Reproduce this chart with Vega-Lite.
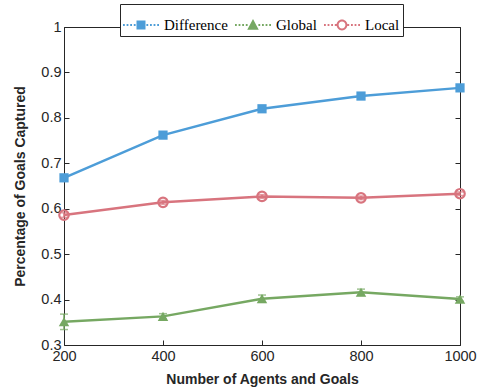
{
  "$schema": "https://vega.github.io/schema/vega-lite/v6.json",
  "width": 396,
  "height": 318,
  "autosize": "none",
  "padding": {"left": 64, "top": 27, "right": 17, "bottom": 45},
  "background": "white",
  "config": {
    "view": {"stroke": "#262626", "strokeWidth": 1},
    "axis": {
      "grid": false,
      "domain": false,
      "tickColor": "#262626",
      "tickSize": 5,
      "offset": -5,
      "labelFlush": false,
      "labelFont": "Liberation Sans",
      "labelFontSize": 14.5,
      "labelColor": "#262626",
      "titleFont": "Liberation Sans",
      "titleFontSize": 14,
      "titleFontWeight": "bold",
      "titleColor": "#262626"
    }
  },
  "data": {
    "values": [
      {"n": 200, "series": "Difference", "v": 0.668, "err": 0.004},
      {"n": 400, "series": "Difference", "v": 0.762, "err": 0.004},
      {"n": 600, "series": "Difference", "v": 0.820, "err": 0.004},
      {"n": 800, "series": "Difference", "v": 0.848, "err": 0.004},
      {"n": 1000, "series": "Difference", "v": 0.866, "err": 0.004},
      {"n": 200, "series": "Global", "v": 0.351, "err": 0.017},
      {"n": 400, "series": "Global", "v": 0.363, "err": 0.006},
      {"n": 600, "series": "Global", "v": 0.402, "err": 0.008},
      {"n": 800, "series": "Global", "v": 0.416, "err": 0.007},
      {"n": 1000, "series": "Global", "v": 0.401, "err": 0.005},
      {"n": 200, "series": "Local", "v": 0.586, "err": 0.005},
      {"n": 400, "series": "Local", "v": 0.614, "err": 0.004},
      {"n": 600, "series": "Local", "v": 0.627, "err": 0.004},
      {"n": 800, "series": "Local", "v": 0.624, "err": 0.004},
      {"n": 1000, "series": "Local", "v": 0.633, "err": 0.004}
    ]
  },
  "resolve": {"axis": {"x": "independent", "y": "independent"}},
  "layer": [
    {
      "mark": {"type": "errorbar", "ticks": {"size": 8}, "thickness": 1.5},
      "encoding": {
        "x": {"field": "n", "type": "quantitative", "scale": {"domain": [200, 1000]}, "axis": null},
        "y": {"field": "v", "type": "quantitative", "scale": {"domain": [0.3, 1]}, "axis": null},
        "yError": {"field": "err"},
        "color": {"field": "series", "type": "nominal"}
      }
    },
    {
      "mark": {"type": "line", "strokeWidth": 2.5},
      "encoding": {
        "x": {"field": "n", "type": "quantitative", "scale": {"domain": [200, 1000]},
              "axis": {"values": [200, 400, 600, 800, 1000], "format": "d", "title": "Number of Agents and Goals", "labelPadding": 4, "titlePadding": 10}},
        "y": {"field": "v", "type": "quantitative", "scale": {"domain": [0.3, 1]},
              "axis": {"values": [0.3, 0.4, 0.5, 0.6, 0.7, 0.8, 0.9, 1], "format": ".1~f", "title": "Percentage of Goals Captured", "labelPadding": 3, "titlePadding": 13}},
        "color": {
          "field": "series", "type": "nominal",
          "scale": {"domain": ["Difference", "Global", "Local"], "range": ["#4d9dd8", "#76a862", "#d8747e"]},
          "legend": {
            "orient": "none", "legendX": 56, "legendY": -23, "direction": "horizontal", "title": null,
            "strokeColor": "#262626", "fillColor": "white", "padding": 3,
            "labelFont": "Liberation Serif", "labelFontSize": 15, "labelColor": "black",
            "symbolSize": 1296, "symbolStrokeWidth": 0, "columnPadding": 7, "labelOffset": 5,
            "encode": {"symbols": {"update": {
              "size": {"value": 1296},
              "fill": {"scale": "color", "field": "value"},
              "stroke": {"value": "transparent"},
              "shape": {"signal": "'M-1,-0.05h0.1v0.1h-0.1Z M-0.8,-0.05h0.1v0.1h-0.1Z M-0.6,-0.05h0.1v0.1h-0.1Z M-0.4,-0.05h0.1v0.1h-0.1Z M0.3,-0.05h0.1v0.1h-0.1Z M0.5,-0.05h0.1v0.1h-0.1Z M0.7,-0.05h0.1v0.1h-0.1Z M0.9,-0.05h0.1v0.1h-0.1Z ' + (datum.value === 'Difference' ? 'M-0.25,-0.25H0.25V0.25H-0.25Z' : datum.value === 'Global' ? 'M0,-0.33L0.32,0.27H-0.32Z' : 'M0.3,0A0.3,0.3,0,1,0,-0.3,0A0.3,0.3,0,1,0,0.3,0Z M0.19,0A0.19,0.19,0,1,1,-0.19,0A0.19,0.19,0,1,1,0.19,0Z')"}
            }}}
          }
        }
      }
    },
    {
      "transform": [{"filter": "datum.series === 'Difference'"}],
      "mark": {"type": "point", "shape": "square", "filled": true, "size": 85, "color": "#4d9dd8", "opacity": 1},
      "encoding": {
        "x": {"field": "n", "type": "quantitative",
              "axis": {"orient": "top", "labels": false, "title": null, "values": [200, 400, 600, 800, 1000]}},
        "y": {"field": "v", "type": "quantitative",
              "axis": {"orient": "right", "labels": false, "title": null, "values": [0.3, 0.4, 0.5, 0.6, 0.7, 0.8, 0.9, 1]}}
      }
    },
    {
      "transform": [{"filter": "datum.series === 'Global'"}],
      "mark": {"type": "point", "shape": "triangle-up", "filled": true, "size": 110, "color": "#76a862", "opacity": 1},
      "encoding": {
        "x": {"field": "n", "type": "quantitative", "axis": null},
        "y": {"field": "v", "type": "quantitative", "axis": null}
      }
    },
    {
      "transform": [{"filter": "datum.series === 'Local'"}],
      "mark": {"type": "point", "shape": "circle", "filled": false, "size": 90, "strokeWidth": 2.2, "color": "#d8747e", "opacity": 1},
      "encoding": {
        "x": {"field": "n", "type": "quantitative", "axis": null},
        "y": {"field": "v", "type": "quantitative", "axis": null}
      }
    }
  ]
}
